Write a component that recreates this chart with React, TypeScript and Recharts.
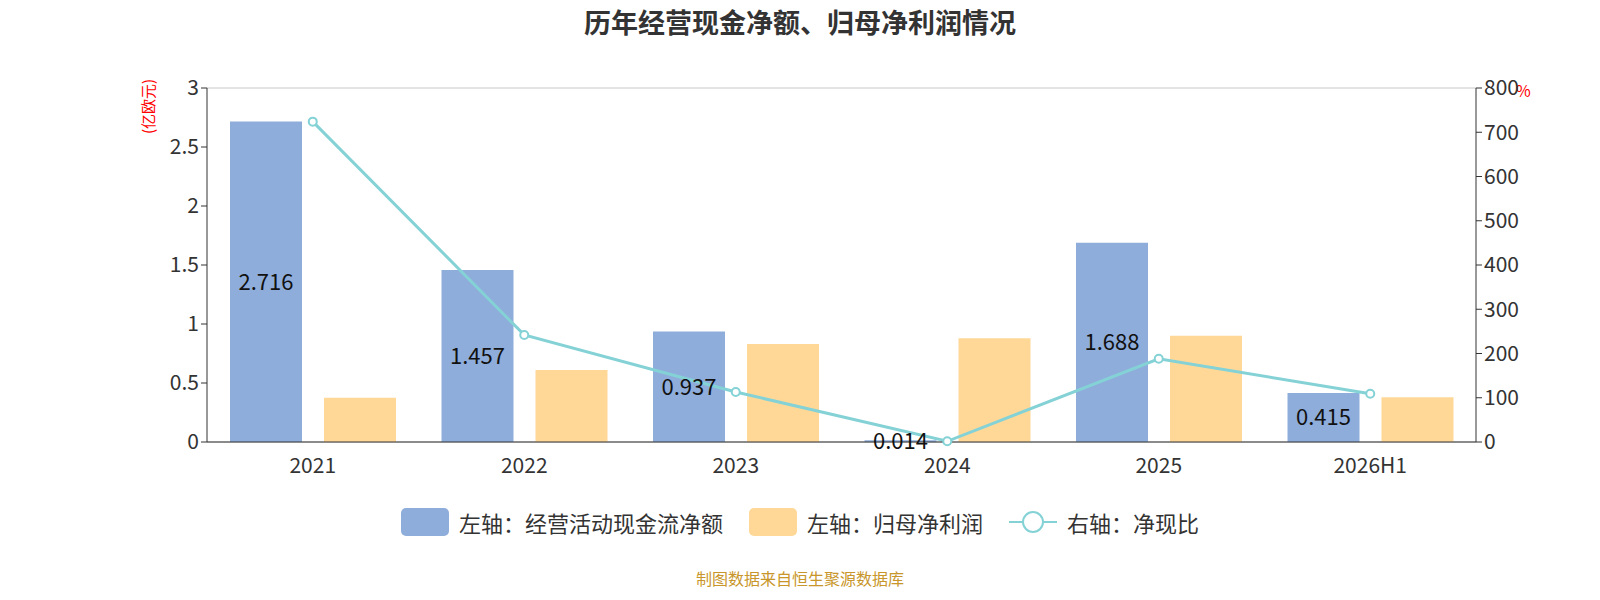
import React from "react";
import {
  ComposedChart,
  Bar,
  Line,
  XAxis,
  YAxis,
  CartesianGrid,
  LabelList
} from "recharts";

const years = ["2021", "2022", "2023", "2024", "2025", "2026H1"];
const cashFlow = [2.716, 1.457, 0.937, 0.014, 1.688, 0.415];
const netProfit = [0.375, 0.61, 0.83, 0.88, 0.9, 0.38];
const cashRatio = [724, 242, 113, 1.6, 188, 109];

const leftTicks = [0, 0.5, 1, 1.5, 2, 2.5, 3];
const rightTicks = [0, 100, 200, 300, 400, 500, 600, 700, 800];

const data = years.map((y, i) => ({
  year: y,
  cash: cashFlow[i],
  profit: netProfit[i],
  ratio: cashRatio[i]
}));

const font = "'Noto Sans CJK SC', 'Noto Sans', sans-serif";
const tick = { fontSize: 21, fill: "#333", fontFamily: font };

export default function App() {
  return (
    <div
      style={{
        position: "absolute",
        left: 0,
        top: 0,
        width: 1600,
        height: 600,
        background: "#fff",
        fontFamily: font
      }}
    >
      <div
        style={{
          position: "absolute",
          top: 2,
          width: "100%",
          textAlign: "center",
          fontSize: 27,
          fontWeight: "bold",
          color: "#333"
        }}
      >
        历年经营现金净额、归母净利润情况
      </div>
      <div
        style={{
          position: "absolute",
          left: 112,
          top: 96,
          width: 70,
          textAlign: "center",
          color: "red",
          fontSize: 15,
          transform: "rotate(-90deg)"
        }}
      >
        (亿欧元)
      </div>
      <div style={{ position: "absolute", left: 1516, top: 78, color: "red", fontSize: 16 }}>%</div>
      <ComposedChart
        width={1600}
        height={600}
        data={data}
        margin={{ top: 88, left: 157, right: 74, bottom: 128 }}
        barSize={72}
        barGap={22}
      >
        <CartesianGrid vertical={false} stroke="#c8c8c8" />
        <XAxis
          dataKey="year"
          tick={tick}
          tickLine={false}
          axisLine={{ stroke: "#333" }}
          height={30}
          dy={8}
        />
        <YAxis
          yAxisId="left"
          domain={[0, 3]}
          ticks={leftTicks}
          tick={tick}
          width={50}
          axisLine={{ stroke: "#333" }}
          tickLine={{ stroke: "#333" }}
        />
        <YAxis
          yAxisId="right"
          orientation="right"
          domain={[0, 800]}
          ticks={rightTicks}
          tick={tick}
          width={50}
          axisLine={{ stroke: "#333" }}
          tickLine={{ stroke: "#333" }}
        />
        <Bar yAxisId="left" dataKey="cash" fill="#8eaddb" isAnimationActive={false}>
          <LabelList
            dataKey="cash"
            position="center"
            fill="#111"
            fontSize={22}
            fontFamily={font}
          />
        </Bar>
        <Bar yAxisId="left" dataKey="profit" fill="#ffd898" isAnimationActive={false} />
        <Line
          yAxisId="right"
          dataKey="ratio"
          stroke="#84d2d6"
          strokeWidth={3}
          dot={{ r: 4, fill: "#fff", stroke: "#84d2d6", strokeWidth: 2 }}
          isAnimationActive={false}
        />
      </ComposedChart>
      <div
        style={{
          position: "absolute",
          top: 506,
          left: 0,
          width: "100%",
          display: "flex",
          justifyContent: "center",
          gap: 26,
          fontSize: 22,
          color: "#333",
          alignItems: "center"
        }}
      >
        <span style={{ display: "flex", alignItems: "center", gap: 10 }}>
          <span style={{ width: 48, height: 28, background: "#8eaddb", borderRadius: 5 }} />
          左轴：经营活动现金流净额
        </span>
        <span style={{ display: "flex", alignItems: "center", gap: 10 }}>
          <span style={{ width: 48, height: 28, background: "#ffd898", borderRadius: 5 }} />
          左轴：归母净利润
        </span>
        <span style={{ display: "flex", alignItems: "center", gap: 10 }}>
          <svg width={48} height={28}>
            <line x1={0} y1={14} x2={48} y2={14} stroke="#84d2d6" strokeWidth={2} />
            <circle cx={24} cy={14} r={10} fill="#fff" stroke="#84d2d6" strokeWidth={2} />
          </svg>
          右轴：净现比
        </span>
      </div>
      <div
        style={{
          position: "absolute",
          top: 566,
          width: "100%",
          textAlign: "center",
          fontSize: 16,
          color: "#c8962a"
        }}
      >
        制图数据来自恒生聚源数据库
      </div>
    </div>
  );
}
